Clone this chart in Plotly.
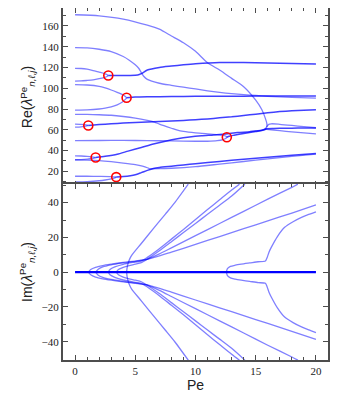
import plotly.graph_objects as go
from plotly.subplots import make_subplots

# ---------------- Re(lambda) curves (top panel) ----------------
# single (real) eigenvalue branches
re_c1_pe = [0, 2, 4, 6, 7, 8, 9, 10, 11, 12, 13, 14, 15, 15.5, 15.8, 15.93, 15.9, 15.75]
re_c1 = [170.7, 169.7, 166.6, 160.7, 156.8, 150.3, 143.8, 135.5, 124.5, 117.5, 109.5, 101.5, 88.5, 79.5, 71, 65.5, 62.5, 61]

re_c2_pe = [0, 1, 2, 3, 4, 4.5, 5, 5.3, 5.5, 5.7, 6, 7, 8, 9, 10, 11, 12, 13, 14, 15, 16, 18, 20]
re_c2 = [139, 138.8, 137.5, 135.3, 130.5, 127, 122.5, 119, 115, 111.5, 108.5, 104.8, 102.8, 101, 99.3, 97.5, 96, 94.8, 93.8, 93, 92.3, 91.3, 90.5]

re_a1_pe = [0, 0.5, 1, 1.5, 2, 2.4, 2.65, 2.76]
re_a1 = [119.2, 119, 118.3, 117, 115.5, 114.3, 113.2, 112.2]
re_a2_pe = [0, 0.5, 1, 1.5, 2, 2.4, 2.65, 2.76]
re_a2 = [106.8, 107, 107.5, 108.1, 109.2, 110.3, 111.3, 112.2]

re_b1_pe = [0, 1, 2, 2.5, 3, 3.5, 4, 4.2, 4.28]
re_b1 = [103.4, 103.1, 101.8, 100.3, 98.3, 96, 93.5, 91.8, 90.8]
re_b2_pe = [0, 1, 2, 2.5, 3, 3.5, 3.9, 4.15, 4.28]
re_b2 = [79, 79.2, 80, 80.8, 82, 84, 86.5, 89, 90.8]

re_c3_pe = [0, 1, 2, 3, 4, 5, 6, 6.6, 7, 8, 8.5, 9, 10, 11, 11.8, 12.3, 12.5, 12.6]
re_c3 = [74.9, 74.8, 74.5, 74, 72.8, 71.2, 69, 67.4, 65.5, 61.5, 59.6, 58.4, 57, 56.1, 55.4, 54.7, 54, 52.8]

re_c4_pe = [0, 2, 4, 6, 8, 10, 11, 11.8, 12.3, 12.5, 12.6]
re_c4 = [49.6, 49.7, 49.8, 49.6, 49.3, 49, 49, 49.5, 50.6, 51.6, 52.8]

re_e3a_pe = [0, 0.5, 0.9, 1.1]
re_e3a = [65.4, 65.2, 64.8, 64.2]
re_e3b_pe = [0, 0.5, 0.9, 1.1]
re_e3b = [62.6, 62.9, 63.5, 64.2]

re_e4a_pe = [0, 0.5, 1, 1.4, 1.71]
re_e4a = [34.9, 34.8, 34.5, 34, 33.3]
re_e4b_pe = [0, 0.5, 1, 1.4, 1.71]
re_e4b = [31.2, 31.4, 31.8, 32.4, 33.3]

re_c5_pe = [0, 1, 2, 3, 4, 5, 5.6, 6.0, 6.2]
re_c5 = [31, 30.8, 30.3, 29.3, 28, 26.5, 25, 23.5, 22.5]

re_e5a_pe = [0, 1, 2, 3, 3.42]
re_e5a = [15.3, 15.3, 15.2, 15, 14.5]
re_e5b_pe = [0, 1, 2, 2.5, 3, 3.3, 3.42]
re_e5b = [9.9, 10.2, 11, 11.7, 12.7, 13.7, 14.5]

re_f5_pe = [6.2, 7, 8, 10, 12, 14, 16, 18, 20]
re_f5 = [22.5, 22.7, 23, 24.5, 27, 29.5, 32, 34.5, 36.7]

re_e1_pe = [15.9, 16.05, 16.3, 17, 18, 19, 20]
re_e1 = [62.5, 65, 65.8, 65.3, 64.2, 63, 62]
re_e2_pe = [15.9, 16.5, 17, 18, 19, 20]
re_e2 = [60.5, 59.8, 59.2, 58, 57, 56]

# complex-conjugate pairs (two coincident real parts)
re_d1_pe = [2.76, 3.5, 4.5, 5.2, 5.5, 6, 7, 8, 9, 10, 12, 14, 16, 18, 20]
re_d1 = [112.2, 112.2, 112.3, 112.7, 114, 117.5, 120, 121.3, 122.5, 123.5, 124.7, 124.7, 124.3, 123.8, 123.3]

re_d2_pe = [4.28, 5, 6, 8, 10, 12, 14, 16, 18, 20]
re_d2 = [90.8, 91.5, 91.8, 92, 92.2, 92.3, 92.4, 92.5, 92.5, 92.5]

re_d3_pe = [1.1, 2, 3, 4, 5, 6, 7, 8, 9, 10, 11, 12, 13, 14, 15, 16, 17, 18, 19, 20]
re_d3 = [64.2, 65, 65.8, 66.5, 67, 67.5, 68, 68.5, 69, 69.7, 70.5, 71.5, 72.5, 73.8, 75, 76.4, 77.5, 78.3, 78.9, 79.4]

re_d4_pe = [1.71, 2.5, 3.5, 4.4, 5.5, 6.5, 7.5, 8.5, 9.5, 10.5, 11.5, 12.5, 13.5, 14.5, 15.5, 15.9, 16.5, 17, 18, 19, 20]
re_d4 = [33.3, 34.5, 36.5, 39.5, 43, 46.3, 49, 51.3, 53, 54.2, 55, 56, 57.3, 58.2, 59.5, 61, 61.3, 61.5, 61.6, 61.7, 61.8]

re_d5_pe = [3.42, 4, 5, 5.5, 6, 6.5, 7, 8, 9, 10, 12, 14, 16, 18, 20]
re_d5 = [14.5, 15, 16.8, 18.8, 21, 22.8, 23.8, 25, 26.2, 27.3, 29.6, 31.7, 33.7, 35.5, 37.2]

re_p6_pe = [12.6, 12.8, 13.2, 14, 15, 15.5, 15.9]
re_p6 = [52.8, 53.8, 54.8, 56.5, 58.3, 59.3, 60.8]

# exceptional points (red circles)
ep_pe = [2.76, 4.28, 1.1, 1.71, 3.42, 12.6]
ep_re = [112.2, 90.8, 64.2, 33.3, 14.5, 52.8]

# ---------------- Im(lambda) curves (bottom panel, +/- symmetric) ----------------
im_zero_pe = [0, 20]
im_zero = [0, 0]

im_i3_pe = [1.1, 1.3, 1.7, 2.3, 3, 4, 5, 6, 8, 10, 12, 14, 16, 18, 20]
im_i3 = [0, 1.5, 2.8, 3.8, 4.6, 5.6, 6.4, 7.3, 11.5, 16, 20.5, 25, 29.5, 34, 38.7]

im_i4_pe = [1.71, 1.9, 2.3, 3, 4, 5, 6, 7, 8, 10, 12, 14, 16, 18, 18.5]
im_i4 = [0, 1.6, 3, 4.2, 5.3, 6.2, 7.5, 10.5, 14, 21, 28, 35, 42, 48.8, 50.6]

im_i1_pe = [2.76, 2.9, 3.3, 4, 4.8, 5.5, 6, 7, 8, 9, 10, 11, 12, 13, 13.65]
im_i1 = [0, 1.5, 3, 4.5, 5.6, 6.4, 8.5, 13.5, 19, 24.5, 30.3, 36, 41.6, 47.2, 50.6]

im_i5_pe = [3.42, 3.6, 4, 4.5, 5, 5.5, 6, 7, 8, 9, 10, 11, 12, 13, 14.1]
im_i5 = [0, 1.5, 2.8, 3.8, 4.6, 5.5, 7.5, 12.3, 17.5, 22.8, 28, 33.3, 38.5, 43.8, 50.6]

im_i2_pe = [4.28, 4.32, 4.4, 4.55, 4.7, 5.5, 6.5, 7.5, 8.28, 9.4]
im_i2 = [0, 2.5, 5, 7.8, 9.7, 16.5, 25, 33.4, 40, 50.6]

im_i6_pe = [12.56, 12.65, 12.9, 13.3, 13.8, 14.5, 15.2, 15.8, 15.95, 16.1, 16.3, 16.8, 17.4, 18.1, 18.8, 19.4, 20]
im_i6 = [0, 2, 3.3, 4, 4.6, 5.3, 6, 6.4, 8.5, 11.5, 14.4, 20.5, 25.8, 29, 31.5, 33.2, 34.7]

# ---------------- figure ----------------
LIGHT = "rgba(0,0,255,0.5)"
DARK = "rgba(0,0,255,0.75)"
LW = 1.3

fig = make_subplots(rows=2, cols=1, shared_xaxes=True, vertical_spacing=0.0)

single_re = [(re_c1_pe, re_c1), (re_c2_pe, re_c2), (re_a1_pe, re_a1), (re_a2_pe, re_a2),
             (re_b1_pe, re_b1), (re_b2_pe, re_b2), (re_c3_pe, re_c3), (re_c4_pe, re_c4),
             (re_e3a_pe, re_e3a), (re_e3b_pe, re_e3b), (re_e4a_pe, re_e4a), (re_e4b_pe, re_e4b),
             (re_c5_pe, re_c5), (re_e5a_pe, re_e5a), (re_e5b_pe, re_e5b), (re_f5_pe, re_f5),
             (re_e1_pe, re_e1), (re_e2_pe, re_e2)]
pair_re = [(re_d1_pe, re_d1), (re_d2_pe, re_d2), (re_d3_pe, re_d3), (re_d4_pe, re_d4),
           (re_d5_pe, re_d5), (re_p6_pe, re_p6)]

for xs, ys in single_re:
    fig.add_trace(go.Scatter(x=xs, y=ys, mode="lines", line=dict(color=LIGHT, width=LW, shape="spline", smoothing=0.6),
                             hoverinfo="skip", showlegend=False), row=1, col=1)
for xs, ys in pair_re:
    fig.add_trace(go.Scatter(x=xs, y=ys, mode="lines", line=dict(color=DARK, width=LW + 0.2, shape="spline", smoothing=0.6),
                             hoverinfo="skip", showlegend=False), row=1, col=1)

fig.add_trace(go.Scatter(x=ep_pe, y=ep_re, mode="markers",
                         marker=dict(symbol="circle-open", size=9, color="red", line=dict(width=1.6, color="red")),
                         hoverinfo="skip", showlegend=False), row=1, col=1)

im_curves = [(im_i3_pe, im_i3), (im_i4_pe, im_i4), (im_i1_pe, im_i1), (im_i5_pe, im_i5),
             (im_i2_pe, im_i2), (im_i6_pe, im_i6)]
for xs, ys in im_curves:
    for sgn in (1, -1):
        fig.add_trace(go.Scatter(x=xs, y=[sgn * v for v in ys], mode="lines",
                                 line=dict(color=LIGHT, width=LW, shape="spline", smoothing=0.6),
                                 hoverinfo="skip", showlegend=False), row=2, col=1)
fig.add_trace(go.Scatter(x=im_zero_pe, y=im_zero, mode="lines", line=dict(color="rgb(0,0,255)", width=2.2),
                         hoverinfo="skip", showlegend=False), row=2, col=1)

AX = "#4d4d4d"
tickfont = dict(family="Liberation Serif, DejaVu Serif, serif", size=11, color="#222")
common = dict(showline=True, linecolor=AX, linewidth=2, mirror="allticks", ticks="inside",
              ticklen=5, tickwidth=1.2, tickcolor=AX, showgrid=False, zeroline=False,
              tickfont=tickfont, automargin=False)

fig.update_xaxes(range=[-1, 21], dtick=5, tick0=0,
                 minor=dict(dtick=1, ticklen=3, ticks="inside", tickcolor=AX, tickwidth=1),
                 **common)
fig.update_xaxes(showticklabels=False, row=1, col=1)
fig.update_xaxes(title=dict(text="Pe", font=dict(family="Liberation Sans, Arial, sans-serif", size=14, color="#222"),
                            standoff=4), row=2, col=1)

fig.update_yaxes(range=[6, 177.2], dtick=20, tick0=0,
                 minor=dict(dtick=10, ticklen=3, ticks="inside", tickcolor=AX, tickwidth=1),
                 title=dict(text="Re(<i>λ</i><sup>Pe</sup><sub><i>n,ℓ,j</i></sub>)",
                            font=dict(family="Liberation Sans, Arial, sans-serif", size=14, color="#222"),
                            standoff=6),
                 row=1, col=1, **common)
fig.update_yaxes(range=[-50.5, 50.7], dtick=20, tick0=0,
                 minor=dict(dtick=10, ticklen=3, ticks="inside", tickcolor=AX, tickwidth=1),
                 title=dict(text="Im(<i>λ</i><sup>Pe</sup><sub><i>n,ℓ,j</i></sub>)",
                            font=dict(family="Liberation Sans, Arial, sans-serif", size=14, color="#222"),
                            standoff=6),
                 row=2, col=1, **common)

# page body has an 8px margin: figure is sized/offset to compensate
fig.update_layout(width=342, height=392, margin=dict(l=55, r=21.5, t=0, b=40, autoexpand=False),
                  plot_bgcolor="white", paper_bgcolor="white")
fig.layout.yaxis.domain = [0.4945, 1.0]
fig.layout.yaxis2.domain = [0.0, 0.5]

fig.write_html("out.html")
